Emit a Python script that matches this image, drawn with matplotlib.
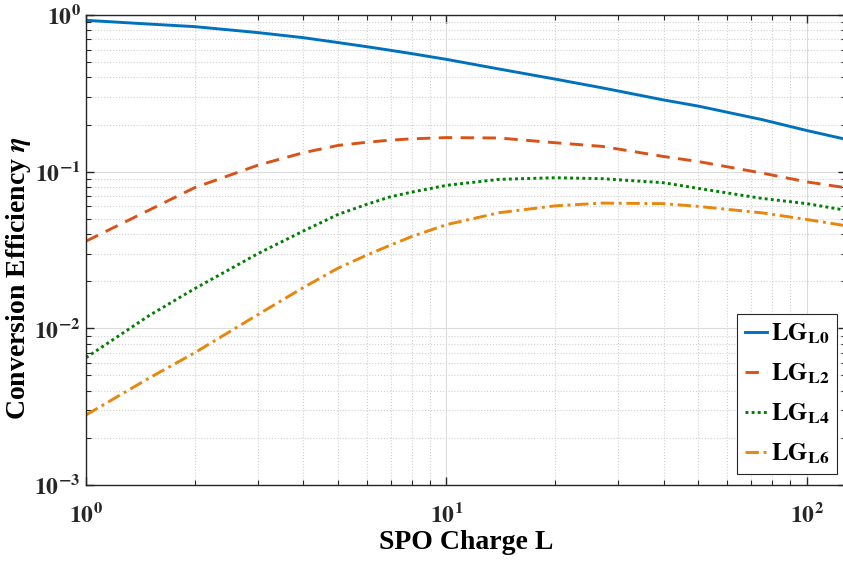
"""Conversion efficiency of LG modes versus SPO charge (log-log)."""

import matplotlib
matplotlib.use("Agg")
import matplotlib.pyplot as plt
from matplotlib.ticker import FuncFormatter, LogLocator, NullFormatter
import numpy as np

# values
charge = [1, 1.5, 2, 3, 4, 5, 6, 7, 8, 10, 14, 20, 27, 40, 50, 75, 100, 128]
eta_l0 = [0.925, 0.875, 0.843, 0.772, 0.717, 0.667, 0.628, 0.595, 0.567, 0.521,
          0.452, 0.39, 0.343, 0.287, 0.262, 0.215, 0.183, 0.161]
eta_l2 = [0.036, 0.057, 0.079, 0.11, 0.132, 0.147, 0.154, 0.159, 0.162, 0.165,
          0.164, 0.153, 0.145, 0.125, 0.116, 0.098, 0.086, 0.079]
eta_l4 = [0.0065, 0.0121, 0.0179, 0.030, 0.0417, 0.0533, 0.0618, 0.0692, 0.074,
          0.0818, 0.0893, 0.0915, 0.0902, 0.085, 0.0782, 0.0675, 0.0625, 0.0567]
eta_l6 = [0.0028, 0.00483, 0.00697, 0.01225, 0.01816, 0.0242, 0.0293, 0.0340,
          0.0385, 0.0459, 0.0547, 0.0605, 0.063, 0.0625, 0.060, 0.0546, 0.0495,
          0.0452]
labels = ["L0", "L2", "L4", "L6"]

plt.rcParams["font.family"] = ["Liberation Serif", "DejaVu Serif"]
plt.rcParams["font.weight"] = "bold"
plt.rcParams["mathtext.fontset"] = "stix"

fig = plt.figure(figsize=(8.43, 5.65), dpi=100)
ax = fig.add_axes([86 / 843, 80 / 565, 759.6 / 843, 470 / 565])

styles = [
    dict(color="#0072BD", linestyle="-"),
    dict(color="#D95319", linestyle=(0, (4.6, 2.9))),
    dict(color="#008000", linestyle=(0, (1.0, 1.1))),
    dict(color="#E8870B", linestyle=(0, (4.6, 1.6, 1.0, 1.6))),
]
for y, lab, st in zip([eta_l0, eta_l2, eta_l4, eta_l6], labels, styles):
    ax.plot(charge, y, lw=2.1, label=r"$\mathbf{LG}_{\mathbf{%s}}$" % lab, **st)

ax.set_xscale("log")
ax.set_yscale("log")
ax.set_xlim(1, 128)
ax.set_ylim(1e-3, 1)

sci = FuncFormatter(lambda v, _: r"$\mathbf{10}^{\mathbf{%d}}$" % round(np.log10(v)))
ax.xaxis.set_major_locator(LogLocator(base=10, numticks=10))
ax.yaxis.set_major_locator(LogLocator(base=10, numticks=10))
ax.xaxis.set_major_formatter(sci)
ax.yaxis.set_major_formatter(sci)
ax.xaxis.set_minor_formatter(NullFormatter())
ax.yaxis.set_minor_formatter(NullFormatter())

ax.tick_params(which="both", direction="in", top=True, right=True, colors="#262626")
ax.tick_params(which="major", length=6, width=1.0, labelsize=17)
ax.tick_params(which="minor", length=3.5, width=0.8)
ax.tick_params(axis="x", which="major", pad=13)
ax.tick_params(axis="y", which="major", pad=4)
for sp in ax.spines.values():
    sp.set_color("#262626")
    sp.set_linewidth(1.0)

ax.grid(True, which="major", color="#dcdcdc", linestyle="-", linewidth=0.8)
ax.grid(True, which="minor", color="#d0d0d0", linestyle=":", linewidth=0.8)
ax.set_axisbelow(True)

ax.set_xlabel("SPO Charge L", fontsize=20, fontweight="bold", labelpad=2)
ax.set_ylabel(r"Conversion Efficiency $\eta$", fontsize=20, fontweight="bold")
ax.yaxis.set_label_coords(-0.0695, 0.44)

leg = ax.legend(loc="lower right", bbox_to_anchor=(837 / 843, 91 / 565),
                bbox_transform=fig.transFigure, fontsize=18, handlelength=0.9,
                handletextpad=0.15, labelspacing=0.62, borderpad=0.3,
                borderaxespad=0, fancybox=False, framealpha=1, edgecolor="#262626")
leg.get_frame().set_linewidth(0.8)

fig.savefig("out.png", dpi=100)
